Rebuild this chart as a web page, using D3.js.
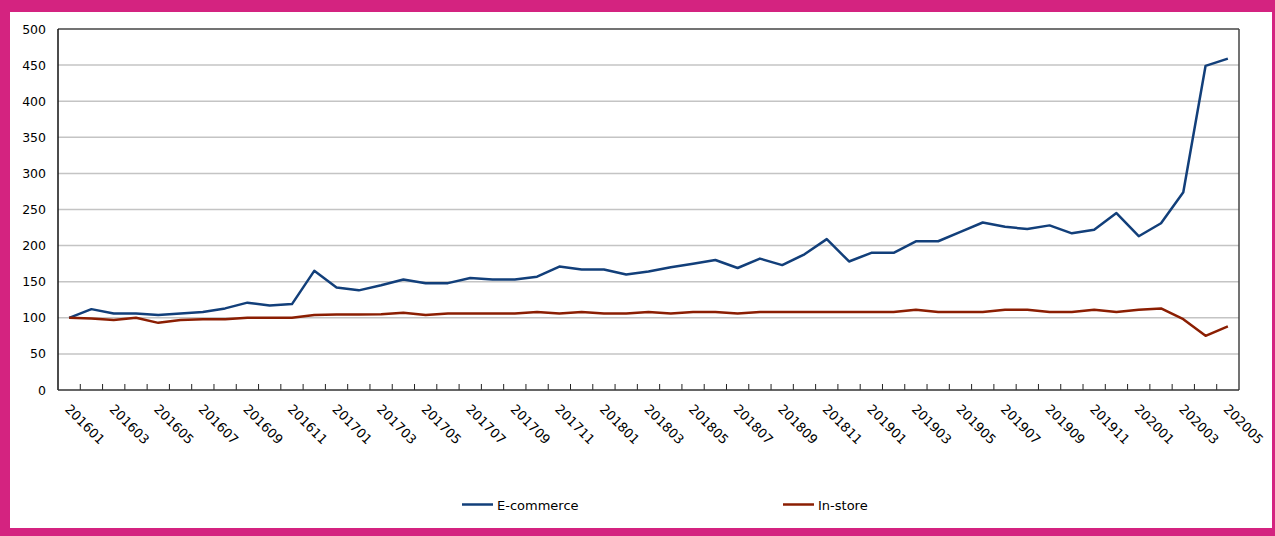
<!DOCTYPE html>
<html>
<head>
<meta charset="utf-8">
<script src="https://cdn.jsdelivr.net/npm/d3@7/dist/d3.min.js"></script>
<style>
  html, body { margin: 0; padding: 0; background: #fff; }
  svg { display: block; }
</style>
</head>
<body>
<svg id="chart" width="1275" height="536"></svg>
<script>
const months = [
  "201601","201602","201603","201604","201605","201606","201607","201608","201609","201610","201611","201612",
  "201701","201702","201703","201704","201705","201706","201707","201708","201709","201710","201711","201712",
  "201801","201802","201803","201804","201805","201806","201807","201808","201809","201810","201811","201812",
  "201901","201902","201903","201904","201905","201906","201907","201908","201909","201910","201911","201912",
  "202001","202002","202003","202004","202005"
];
const ecommerce = [
  100,112,106,106,104,106,108,113,121,117,119,165,
  142,138,145,153,148,148,155,153,153,157,171,167,
  167,160,164,170,175,180,169,182,173,188,209,178,
  190,190,206,206,219,232,226,223,228,217,222,245,
  213,231,274,449,459
];
const instore = [
  100,99,97,100,93,97,98,98,100,100,100,104,
  104.5,104.5,105,107,104,106,106,106,106,108,106,108,
  106,106,108,106,108,108,106,108,108,108,108,108,
  108,108,111,108,108,108,111,111,108,108,111,108,
  111,113,98,75,88
];
const yTicks = [0,50,100,150,200,250,300,350,400,450,500];
const seriesNames = ["E-commerce","In-store"];
const seriesColors = ["#123f7a","#8b1e02"];

const svg = d3.select("#chart");

// pink frame
const pink = "#d42380";
svg.append("rect").attr("x",0).attr("y",0).attr("width",1275).attr("height",12).attr("fill",pink);
svg.append("rect").attr("x",0).attr("y",0).attr("width",10).attr("height",536).attr("fill",pink);
svg.append("rect").attr("x",0).attr("y",528).attr("width",1275).attr("height",8).attr("fill",pink);
svg.append("rect").attr("x",1272).attr("y",0).attr("width",3).attr("height",536).attr("fill",pink);

const L = 58, R = 1239, T = 29, B = 390;
const x = d3.scaleBand().domain(months).range([L, R]).padding(0);
const y = d3.scaleLinear().domain([0, 500]).range([B, T]);
const cx = d => x(d) + x.bandwidth() / 2;

// gridlines
svg.append("g").selectAll("line").data(yTicks.filter(v => v > 0 && v < 500)).join("line")
  .attr("x1", L).attr("x2", R)
  .attr("y1", d => y(d)).attr("y2", d => y(d))
  .attr("stroke", "#c4c4c4").attr("stroke-width", 1.5);

// frame top & right
svg.append("line").attr("x1", L).attr("x2", R).attr("y1", T).attr("y2", T).attr("stroke", "#444").attr("stroke-width", 1.5);
svg.append("line").attr("x1", R).attr("x2", R).attr("y1", T).attr("y2", B).attr("stroke", "#444").attr("stroke-width", 1.5);

// x ticks between categories (pointing up)
svg.append("g").selectAll("line").data(months.slice(1)).join("line")
  .attr("x1", d => x(d)).attr("x2", d => x(d))
  .attr("y1", B).attr("y2", B - 6)
  .attr("stroke", "#222").attr("stroke-width", 1);

// y axis labels
const yAxis = d3.axisLeft(y).tickValues(yTicks).tickSize(0).tickPadding(12);
const gy = svg.append("g").attr("transform", `translate(${L},0)`).call(yAxis);
gy.select(".domain").remove();
gy.selectAll("text").attr("font-family", "DejaVu Sans, Verdana, sans-serif").attr("font-size", 12.5).attr("fill", "#000");

// x axis labels
const xAxis = d3.axisBottom(x).tickValues(months.filter((d, i) => i % 2 === 0)).tickSize(0);
const gx = svg.append("g").attr("transform", `translate(0,${B})`).call(xAxis);
gx.select(".domain").remove();
gx.selectAll("text")
  .attr("font-family", "DejaVu Sans, Verdana, sans-serif").attr("font-size", 13).attr("fill", "#000")
  .attr("text-anchor", "start")
  .attr("dy", null).attr("y", null)
  .attr("transform", "translate(-5,20) rotate(45)");

// axes lines
svg.append("line").attr("x1", L).attr("x2", L).attr("y1", T).attr("y2", B).attr("stroke", "#111").attr("stroke-width", 1.5);
svg.append("line").attr("x1", L).attr("x2", R).attr("y1", B).attr("y2", B).attr("stroke", "#333").attr("stroke-width", 1.5);

// lines
const series = [ecommerce, instore];
const line = d3.line().x((d, i) => cx(months[i])).y(d => y(d));
series.forEach((s, k) => {
  svg.append("path").datum(s).attr("d", line)
    .attr("fill", "none").attr("stroke", seriesColors[k]).attr("stroke-width", 2.5)
    .attr("stroke-linejoin", "round");
});

// legend
const legendX = [462, 783];
const lg = svg.append("g");
seriesNames.forEach((n, k) => {
  lg.append("line").attr("x1", legendX[k]).attr("x2", legendX[k] + 31).attr("y1", 504.5).attr("y2", 504.5)
    .attr("stroke", seriesColors[k]).attr("stroke-width", 2.5);
  lg.append("text").attr("x", legendX[k] + 35).attr("y", 509.5).text(n)
    .attr("font-family", "DejaVu Sans, Verdana, sans-serif").attr("font-size", 13).attr("fill", "#000");
});
</script>
</body>
</html>
